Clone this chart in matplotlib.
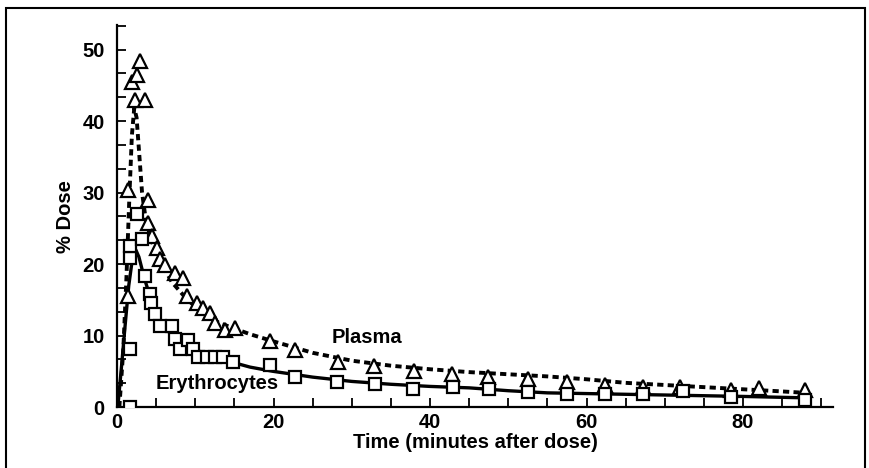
import matplotlib.pyplot as plt
import numpy as np
from matplotlib.patches import Rectangle

plt.rcParams['font.family'] = ['Liberation Sans', 'DejaVu Sans']
plt.rcParams['font.weight'] = 'bold'

# measured points: plasma (triangles)
plasma_t = [1.4, 1.4, 1.9, 2.3, 2.5, 2.9, 3.6, 4.0, 4.0, 4.5, 5.1, 5.5, 6.1, 7.4,
            8.4, 8.9, 10.2, 11.0, 11.9, 12.5, 13.8, 15.1, 19.5, 22.7, 28.2, 32.8,
            37.9, 42.8, 47.4, 52.5, 57.5, 62.3, 67.2, 72.0, 78.4, 82.1, 87.9]
plasma_v = [15.6, 30.4, 45.5, 43.0, 46.5, 48.4, 43.0, 28.9, 25.8, 24.0, 22.3, 20.7, 19.9, 18.7,
            18.0, 15.5, 14.5, 13.8, 13.1, 11.7, 10.8, 11.0, 9.2, 8.0, 6.3, 5.8,
            5.1, 4.6, 4.2, 3.9, 3.5, 3.1, 2.8, 2.8, 2.4, 2.7, 2.4]

# measured points: erythrocytes (squares)
ery_t = [1.7, 1.7, 1.7, 1.7, 2.5, 3.2, 3.6, 4.2, 4.4, 4.9, 5.5, 7.0, 7.4, 8.0,
         9.1, 9.7, 10.3, 11.5, 12.5, 13.5, 14.8, 19.5, 22.7, 28.1, 33.0, 37.8,
         42.9, 47.6, 52.5, 57.5, 62.3, 67.2, 72.3, 78.5, 87.9]
ery_v = [0.0, 8.2, 20.9, 22.5, 27.0, 23.5, 18.3, 15.8, 14.6, 13.0, 11.3, 11.3, 9.6, 8.2,
         9.4, 8.2, 7.0, 7.0, 7.0, 7.0, 6.3, 5.9, 4.2, 3.5, 3.2, 2.5,
         2.8, 2.5, 2.1, 1.8, 1.8, 1.8, 2.3, 1.4, 1.0]

# fitted curves
plasma_fit_t = [0.3, 0.8, 1.2, 1.6, 1.9, 2.2, 2.5, 2.8, 3.2, 3.7, 4.5, 5.5, 7, 9, 11, 13,
                15, 17, 20, 25, 30, 35, 40, 45, 50, 55, 60, 65, 70, 75, 80, 85, 88]
plasma_fit_v = [0, 8, 18, 30, 38, 41.8, 40.5, 36, 30, 26, 23, 20.5, 17.5, 15, 13.2, 11.8,
                11.0, 10.2, 9.2, 7.6, 6.5, 5.8, 5.3, 4.9, 4.6, 4.3, 3.9, 3.4, 3.1, 2.8, 2.5, 2.2, 2.0]
ery_fit_t = [0.1, 0.6, 1.0, 1.5, 2.0, 2.4, 2.8, 3.5, 4.5, 5.5, 7, 9, 11, 13, 15, 17,
             20, 25, 30, 35, 40, 45, 50, 55, 60, 70, 80, 88]
ery_fit_v = [0, 6, 11, 17, 21, 22, 21, 18, 14.5, 12, 10, 8.5, 7.6, 6.9, 6.2, 5.6,
             5.0, 4.2, 3.6, 3.2, 2.9, 2.7, 2.3, 2.0, 1.9, 1.7, 1.5, 1.3]

fig = plt.figure(figsize=(8.7, 4.68), dpi=100)
ax = fig.add_axes([0.1345, 0.130, 0.823, 0.816])

ax.plot(plasma_fit_t, plasma_fit_v, color='black', lw=2.8,
        linestyle=(0, (1.6, 1.1)), zorder=2)
ax.plot(ery_fit_t, ery_fit_v, color='black', lw=2.4, zorder=2)

ax.plot(plasma_t, plasma_v, linestyle='none', marker='^', ms=9.5,
        mfc='white', mec='black', mew=1.6, zorder=3)
ax.plot(ery_t, ery_v, linestyle='none', marker='s', ms=8.5,
        mfc='white', mec='black', mew=1.6, zorder=3)

ax.text(32, 9.8, 'Plasma', fontsize=14.5, fontweight='bold', ha='center', va='center')
ax.text(12.8, 3.3, 'Erythrocytes', fontsize=14.5, fontweight='bold', ha='center', va='center')

ax.set_xlim(0, 91.5)
ax.set_ylim(0, 53.4)
ax.set_xticks(np.arange(0, 91, 5), minor=True)
ax.set_xticks([0, 20, 40, 60, 80])
ax.set_yticks(np.arange(0, 53.5, 10 / 3), minor=True)
ax.set_yticks([0, 10, 20, 30, 40, 50])
ax.tick_params(which='both', direction='in', length=6.5, width=1.3,
               labelsize=14.5, color='black')
ax.tick_params(axis='y', pad=9)
ax.tick_params(axis='x', pad=4)
for lab in ax.get_xticklabels() + ax.get_yticklabels():
    lab.set_fontweight('bold')

for s in ['top', 'right']:
    ax.spines[s].set_visible(False)
for s in ['left', 'bottom']:
    ax.spines[s].set_linewidth(1.6)

ax.set_xlabel('Time (minutes after dose)', fontsize=14.5, fontweight='bold', labelpad=1)
ax.set_ylabel('% Dose', fontsize=14.5, fontweight='bold', labelpad=5)

fig.patches.append(Rectangle((0.007, -0.1), 0.987, 1.083, transform=fig.transFigure,
                             fill=False, edgecolor='black', lw=1.5))

fig.savefig('out.png', dpi=100)
